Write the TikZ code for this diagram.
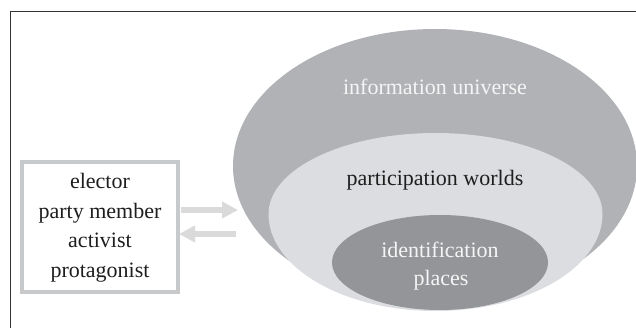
\documentclass[tikz,border=0pt]{standalone}
\usepackage{fontspec}
\setmainfont{Liberation Serif}
\usetikzlibrary{arrows.meta,shapes.geometric}
\definecolor{framec}{HTML}{333333}
\definecolor{bigc}{HTML}{B1B2B5}
\definecolor{lightc}{HTML}{DCDDE0}
\definecolor{darkc}{HTML}{949598}
\definecolor{boxc}{HTML}{C8C9CB}
\definecolor{arrc}{HTML}{DADADA}
\definecolor{txtc}{HTML}{1E1E1E}
\tikzset{
  lbl/.style={font=\fontsize{22}{29}\selectfont, inner sep=0pt, anchor=base},
  whitelbl/.style={lbl, text=white!96!black},
  darklbl/.style={lbl, text=txtc},
  flow/.style={draw=arrc, line width=6.7pt, -{Triangle[width=16pt,length=16pt]}},
}
\begin{document}
\begin{tikzpicture}[x=1pt,y=1pt]
\useasboundingbox (0,0) rectangle (636,327);
% frame
\draw[framec, line width=1.1pt] (10.5,-2) -- (10.5,315.3) -- (640,315.3);
% ellipses
\node (universe) [ellipse, fill=bigc, inner sep=0pt, minimum width=404pt, minimum height=274pt] at (435,161) {};
\fill[lightc] (268.5,113) arc[start angle=180, end angle=0, x radius=167, y radius=81]
  arc[start angle=0, end angle=-180, x radius=167, y radius=97] -- cycle;
\node (places) [ellipse, fill=darkc, inner sep=0pt, minimum width=216pt, minimum height=95pt] at (440,64.5) {};
% labels
\node[whitelbl] (tuniverse) at (435,232) {information universe};
\node[darklbl] (tworlds) at (435,142) {participation worlds};
\node[whitelbl] (tident) at (440,70) {identification};
\node[whitelbl] (tplaces) at (441,42) {places};
% roles box
\node (roles) [draw=boxc, line width=4pt, inner sep=0pt, minimum width=156pt, minimum height=130pt] at (100,100) {};
\node[darklbl] (r1) at (100,139) {elector};
\node[darklbl] (r2) at (100,109) {party member};
\node[darklbl] (r3) at (100,80) {activist};
\node[darklbl] (r4) at (100,50) {protagonist};
% arrows
\coordinate (a1s) at (181,117);
\coordinate (a1e) at (238,117);
\coordinate (a2s) at (236,93);
\coordinate (a2e) at (179,93);
\draw[flow] (a1s) -- (a1e);
\draw[flow] (a2s) -- (a2e);
\end{tikzpicture}
\end{document}
